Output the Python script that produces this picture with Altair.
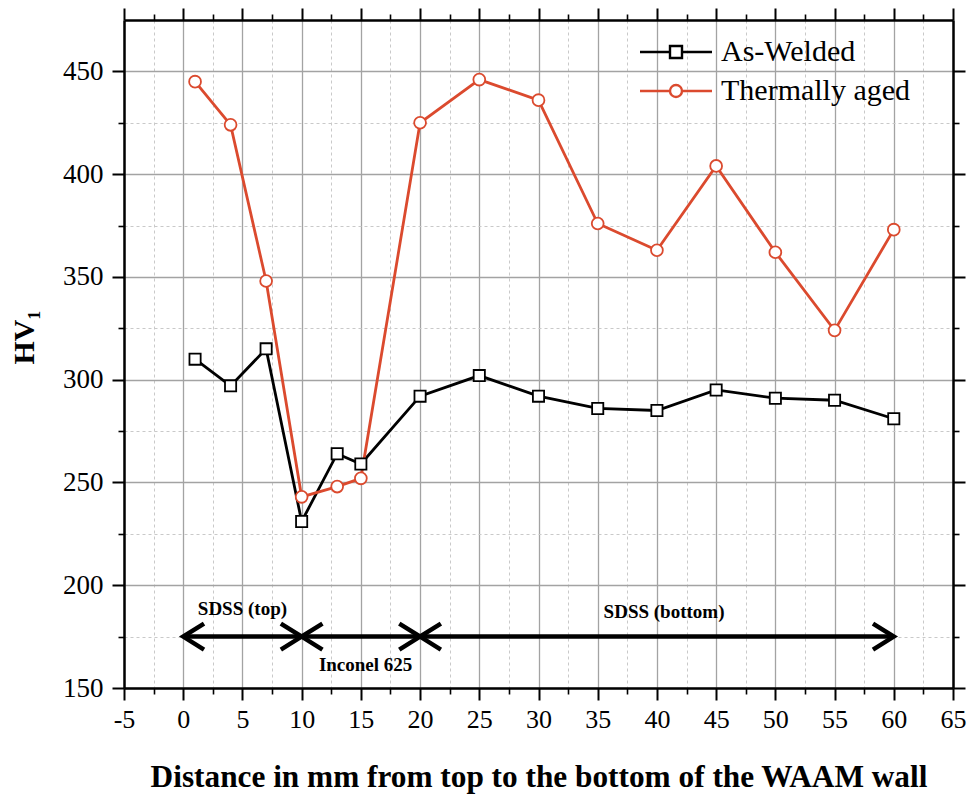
import altair as alt
import pandas as pd

# ---------------- data ----------------
x_pos = [1, 4, 7, 10, 13, 15, 20, 25, 30, 35, 40, 45, 50, 55, 60]
as_welded = [310, 297, 315, 231, 264, 259, 292, 302, 292, 286, 285, 295, 291, 290, 281]
thermally_aged = [445, 424, 348, 243, 248, 252, 425, 446, 436, 376, 363, 404, 362, 324, 373]
series_names = ["As-Welded", "Thermally aged"]
series_colors = ["#000000", "#DB4A2E"]

x_major = [-5, 0, 5, 10, 15, 20, 25, 30, 35, 40, 45, 50, 55, 60, 65]
x_minor = [-2.5, 2.5, 7.5, 12.5, 17.5, 22.5, 27.5, 32.5, 37.5, 42.5, 47.5, 52.5, 57.5, 62.5]
y_major = [150, 200, 250, 300, 350, 400, 450]
y_minor = [175, 225, 275, 325, 375, 425]

seg_start = [0, 10, 20]
seg_end = [10, 20, 60]
arrow_level = [175, 175, 175]
region_labels = ["SDSS (top)", "Inconel 625", "SDSS (bottom)"]
label_x = [5, 15.4, 40.6]
label_y = [188.5, 161, 187]

# ---------------- tables ----------------
df = pd.DataFrame({
    "x": x_pos * 2,
    "hv": as_welded + thermally_aged,
    "series": [series_names[0]] * len(x_pos) + [series_names[1]] * len(x_pos),
})
seg_df = pd.DataFrame({"x0": seg_start, "x1": seg_end, "y": arrow_level})
lab_df = pd.DataFrame({"label": region_labels, "x": label_x, "y": label_y})

FONT = "Liberation Serif"
xs = alt.Scale(domain=[-5, 65], nice=False, zero=False)
ys = alt.Scale(domain=[150, 475], nice=False, zero=False)
cscale = alt.Scale(domain=series_names, range=series_colors)

MAJOR_GRID = "#a3a3a3"
MINOR_GRID = "#c9c9c9"

common_axis = dict(labelFont=FONT, titleFont=FONT, tickColor="black", domainColor="black",
                   labelColor="black", titleColor="black")

# minor grid + minor ticks (bottom/left)
minor_layer = alt.Chart(df).mark_point(opacity=0).encode(
    x=alt.X("x:Q", scale=xs, axis=alt.Axis(orient="bottom", values=x_minor, grid=True,
            gridColor=MINOR_GRID, gridDash=[3, 3], gridWidth=1, tickSize=6, tickWidth=1.6,
            labels=False, domain=False, title=None, **common_axis)),
    y=alt.Y("hv:Q", scale=ys, axis=alt.Axis(orient="left", values=y_minor, grid=True,
            gridColor=MINOR_GRID, gridDash=[3, 3], gridWidth=1, tickSize=6, tickWidth=1.6,
            labels=False, domain=False, title=None, **common_axis)),
)

# top/right frame with major ticks
frame_major = alt.Chart(df).mark_point(opacity=0).encode(
    x=alt.X("x:Q", scale=xs, axis=alt.Axis(orient="top", values=x_major, grid=False,
            tickSize=12, tickWidth=2, labels=False, domain=True, domainWidth=2.5, title=None,
            **common_axis)),
    y=alt.Y("hv:Q", scale=ys, axis=alt.Axis(orient="right", values=y_major, grid=False,
            tickSize=12, tickWidth=2, labels=False, domain=True, domainWidth=2.5, title=None,
            **common_axis)),
)

# top/right minor ticks
frame_minor = alt.Chart(df).mark_point(opacity=0).encode(
    x=alt.X("x:Q", scale=xs, axis=alt.Axis(orient="top", values=x_minor, grid=False,
            tickSize=6, tickWidth=1.6, labels=False, domain=False, title=None, **common_axis)),
    y=alt.Y("hv:Q", scale=ys, axis=alt.Axis(orient="right", values=y_minor, grid=False,
            tickSize=6, tickWidth=1.6, labels=False, domain=False, title=None, **common_axis)),
)

# main line (As-Welded) carries the labelled axes
line_aw = alt.Chart(df).transform_filter(alt.datum.series == series_names[0]).mark_line(
    strokeWidth=2.8, color=series_colors[0]
).encode(
    x=alt.X("x:Q", scale=xs, axis=alt.Axis(orient="bottom", values=x_major, grid=True,
            gridColor=MAJOR_GRID, gridWidth=1.3, tickSize=12, tickWidth=2, domain=True,
            domainWidth=2.5, labelFontSize=26, labelPadding=6, labelFlush=False,
            labelOverlap=False, labelExpr="'' + datum.value",
            title="Distance in mm from top to the bottom of the WAAM wall",
            titleFontSize=31.3, titleFontWeight="bold", titleBaseline="alphabetic", titleY=98,
            **common_axis)),
    y=alt.Y("hv:Q", scale=ys, axis=alt.Axis(orient="left", values=y_major, grid=True,
            gridColor=MAJOR_GRID, gridWidth=1.3, tickSize=12, tickWidth=2, domain=True,
            domainWidth=2.5, labelFontSize=27, labelPadding=9, labelFlush=False,
            labelOverlap=False, labelExpr="'' + datum.value",
            title="HV₁", titleFontSize=30, titleFontWeight="bold", titleAngle=-90,
            titleBaseline="alphabetic", titleX=-91, titleY=317,
            **common_axis)),
)
line_ta = alt.Chart(df).transform_filter(alt.datum.series == series_names[1]).mark_line(
    strokeWidth=2.8, color=series_colors[1]
).encode(
    x=alt.X("x:Q", scale=xs, axis=None),
    y=alt.Y("hv:Q", scale=ys, axis=None),
)

pts_aw = alt.Chart(df).transform_filter(alt.datum.series == series_names[0]).mark_point(
    shape="square", filled=False, fill="white", stroke=series_colors[0], size=125,
    strokeWidth=1.8, opacity=1
).encode(
    x=alt.X("x:Q", scale=xs, axis=None),
    y=alt.Y("hv:Q", scale=ys, axis=None),
)
pts_ta = alt.Chart(df).transform_filter(alt.datum.series == series_names[1]).mark_point(
    shape="circle", filled=False, fill="white", stroke=series_colors[1], size=140,
    strokeWidth=1.8, opacity=1
).encode(
    x=alt.X("x:Q", scale=xs, axis=None),
    y=alt.Y("hv:Q", scale=ys, axis=None),
)

SQ_PATH = "M-6,0H-1M1,0H6M-1,-1H1V1H-1Z"
CI_PATH = "M-6,0H-1M1,0H6M-1,0A1,1 0 1,1 1,0A1,1 0 1,1 -1,0Z"

legend_layer = alt.Chart(df).transform_filter("false").mark_point(
    filled=False, fill="white", size=144, strokeWidth=2.4, opacity=1
).encode(
    x=alt.X("x:Q", scale=xs, axis=None),
    y=alt.Y("hv:Q", scale=ys, axis=None),
    color=alt.Color("series:N", scale=cscale, legend=alt.Legend(title=None)),
    shape=alt.Shape("series:N", scale=alt.Scale(domain=series_names, range=[SQ_PATH, CI_PATH]),
                    legend=alt.Legend(title=None)),
)

# region arrows
arrow_lines = alt.Chart(seg_df).mark_rule(strokeWidth=4.5, color="black").encode(
    x=alt.X("x0:Q", scale=xs, axis=None),
    x2="x1:Q",
    y=alt.Y("y:Q", scale=ys, axis=None),
)
LEFT_HEAD = "M1.6,-1L0,0L1.6,1"
RIGHT_HEAD = "M-1.6,-1L0,0L-1.6,1"
heads_left = alt.Chart(seg_df).mark_point(
    shape=LEFT_HEAD, size=676, filled=False, strokeWidth=4.5, color="black", opacity=1,
    strokeJoin="miter", strokeCap="butt"
).encode(
    x=alt.X("x0:Q", scale=xs, axis=None),
    y=alt.Y("y:Q", scale=ys, axis=None),
)
heads_right = alt.Chart(seg_df).mark_point(
    shape=RIGHT_HEAD, size=676, filled=False, strokeWidth=4.5, color="black", opacity=1,
    strokeJoin="miter", strokeCap="butt"
).encode(
    x=alt.X("x1:Q", scale=xs, axis=None),
    y=alt.Y("y:Q", scale=ys, axis=None),
)
region_text = alt.Chart(lab_df).mark_text(
    font=FONT, fontWeight="bold", fontSize=19, color="black", align="center", baseline="middle"
).encode(
    x=alt.X("x:Q", scale=xs, axis=None),
    y=alt.Y("y:Q", scale=ys, axis=None),
    text="label:N",
)

chart = alt.layer(
    minor_layer, frame_minor, frame_major, line_aw, line_ta, pts_aw, pts_ta, legend_layer,
    arrow_lines, heads_left, heads_right, region_text,
).resolve_axis(
    x="independent", y="independent"
).properties(
    width=829, height=668,
    padding={"left": 124, "top": 20, "right": 16, "bottom": 107},
    autosize=alt.AutoSizeParams(type="none"),
    background="white",
).configure_view(
    stroke=None
).configure_legend(
    orient="none", legendX=537, legendY=17, padding=0,
    labelFont=FONT, labelFontSize=30, labelColor="black", labelOffset=30,
    rowPadding=9, symbolSize=144, symbolStrokeWidth=2.4, symbolFillColor="white",
    labelLimit=400,
)

chart.save("out.html", embed_options={"renderer": "svg", "actions": False})
